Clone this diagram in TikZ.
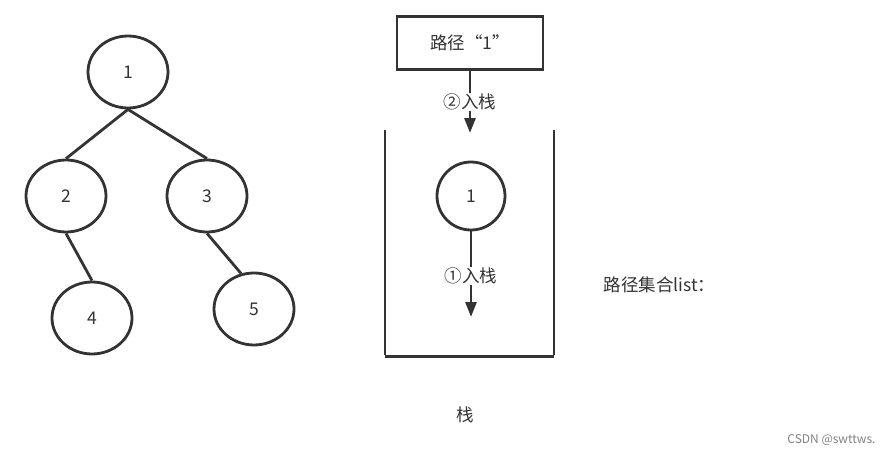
\documentclass[tikz,border=0pt]{standalone}
\usepackage{fontspec}
\setmainfont{Noto Sans CJK SC}
\usetikzlibrary{shapes.geometric,arrows.meta}
\definecolor{ink}{HTML}{333333}
\begin{document}
\begin{tikzpicture}[x=1pt,y=-1pt,
  every node/.style={font=\fontsize{17.5}{20}\selectfont, text=ink},
  tnode/.style={ellipse, draw=ink, line width=2.8pt, minimum width=80pt, minimum height=72pt, inner sep=0pt},
  snode/.style={circle, draw=ink, line width=2.8pt, minimum size=68pt, inner sep=0pt},
  edge/.style={draw=ink, line width=2.8pt},
  push/.style={draw=ink, line width=2.8pt, -{Triangle[length=15pt,width=11pt]}},
  lbl/.style={fill=white, inner sep=1pt}]
\useasboundingbox (0,0) rectangle (895,455);
% tree
\node[tnode] (n1) at (128,72) {1};
\node[tnode] (n2) at (66,196) {2};
\node[tnode] (n3) at (207,196) {3};
\node[tnode] (n4) at (92,318) {4};
\node[tnode] (n5) at (254,309) {5};
\draw[edge] (n1.south) -- (n2.north);
\draw[edge] (n1.south) -- (n3.north);
\draw[edge] (n2.south) -- (n4.north);
\draw[edge] (n3.south) -- (n5.110);
% path box
\node[draw=ink, line width=2.8pt, minimum width=146pt, minimum height=53pt] (box) at (470,43) {路径“1”};
\coordinate (a2) at (470,133);
\draw[push] (box.south) -- (a2) node[lbl, pos=0.5] (l2) {②入栈};
% stack
\coordinate (sl) at (385,130);
\coordinate (sbl) at (385,355);
\coordinate (sbr) at (554,355);
\coordinate (sr) at (554,130);
\draw[edge] (sl) -- (sbl);
\draw[edge] (sr) -- (sbr);
\draw[edge] ([yshift=-1.5pt]sbl) -- ([yshift=-1.5pt]sbr);
\node[snode] (s1) at (471,196) {1};
\coordinate (a1) at (471,317);
\draw[push] (s1.south) -- (a1) node[lbl, pos=0.52] (l1) {①入栈};
% labels
\node[anchor=west] (plist) at (600,285) {路径集合list：};
\node (stk) at (465,415) {栈};
\node[anchor=east, font=\fontsize{12}{14}\selectfont, text=gray] (csdn) at (879,440) {CSDN @swttws.};
\end{tikzpicture}
\end{document}
